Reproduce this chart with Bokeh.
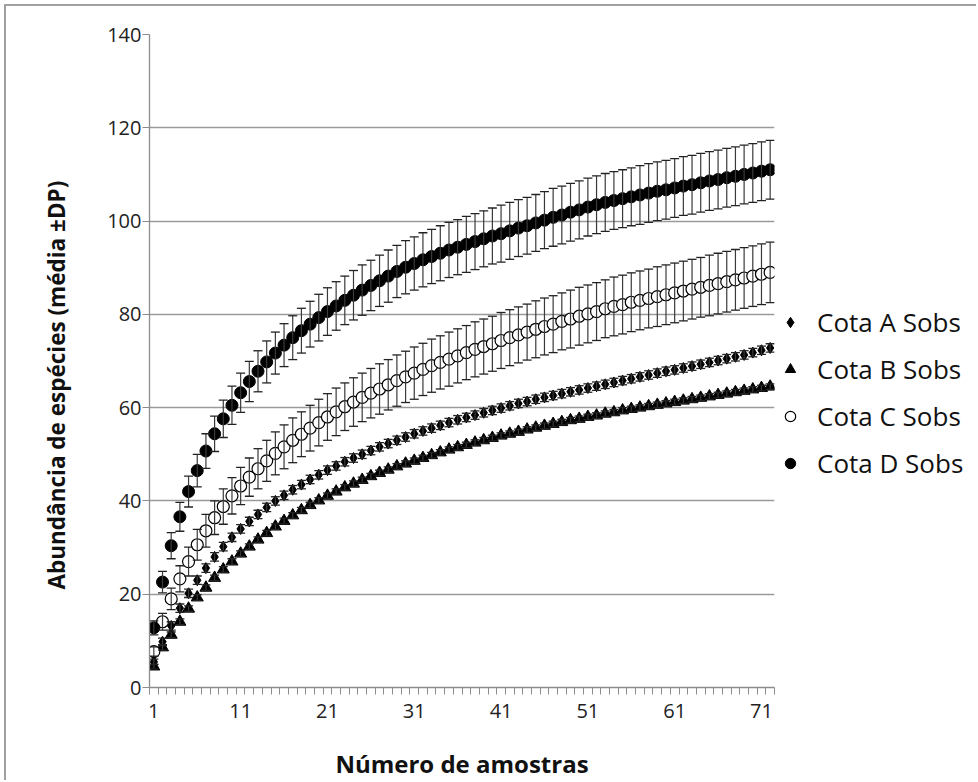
from bokeh.plotting import figure
from bokeh.layouts import row
from bokeh.models import (ColumnDataSource, Whisker, TeeHead, FixedTicker, Range1d,
                          Legend, LegendItem, Title)
from bokeh.embed import file_html
from bokeh.resources import INLINE

# Number of samples (1..72)
samples = list(range(1, 73))

# Observed species richness (mean) per elevation band
cota_a = [5.5, 9.8, 13.2, 17.0, 20.2, 23.0, 25.6, 28.0, 30.2, 32.2,
          34.0, 35.6, 37.1, 38.6, 40.0, 41.2, 42.4, 43.5, 44.6, 45.6,
          46.6, 47.5, 48.4, 49.2, 50.0, 50.8, 51.6, 52.3, 53.0, 53.7,
          54.4, 55.0, 55.6, 56.2, 56.8, 57.4, 57.9, 58.4, 58.9, 59.4,
          59.9, 60.4, 60.9, 61.3, 61.8, 62.2, 62.6, 63.0, 63.4, 63.8,
          64.2, 64.6, 65.0, 65.4, 65.8, 66.2, 66.6, 67.0, 67.4, 67.8,
          68.1, 68.5, 68.9, 69.3, 69.7, 70.1, 70.5, 70.9, 71.3, 71.8,
          72.3, 72.8]
cota_b = [4.5, 8.6, 11.3, 14.1, 16.9, 19.3, 21.4, 23.5, 25.3, 27.0,
          28.7, 30.2, 31.7, 33.1, 34.5, 35.7, 36.9, 38.0, 39.1, 40.1,
          41.1, 42.0, 42.9, 43.7, 44.5, 45.3, 46.0, 46.7, 47.4, 48.0,
          48.6, 49.2, 49.8, 50.4, 51.0, 51.5, 52.0, 52.5, 53.0, 53.5,
          54.0, 54.4, 54.8, 55.3, 55.7, 56.1, 56.5, 56.9, 57.3, 57.6,
          58.0, 58.3, 58.7, 59.0, 59.4, 59.7, 60.0, 60.3, 60.6, 60.9,
          61.2, 61.5, 61.8, 62.1, 62.4, 62.7, 63.0, 63.3, 63.6, 63.9,
          64.2, 64.5]
cota_c = [7.7, 14.1, 19.0, 23.3, 27.0, 30.6, 33.6, 36.4, 38.8, 41.1,
          43.2, 45.1, 46.9, 48.6, 50.2, 51.6, 53.0, 54.3, 55.6, 56.8,
          58.0, 59.1, 60.2, 61.2, 62.2, 63.1, 64.0, 64.9, 65.8, 66.6,
          67.4, 68.2, 69.0, 69.7, 70.4, 71.1, 71.8, 72.5, 73.1, 73.7,
          74.4, 75.0, 75.6, 76.2, 76.8, 77.4, 77.9, 78.5, 79.0, 79.6,
          80.1, 80.6, 81.2, 81.7, 82.1, 82.6, 83.0, 83.4, 83.8, 84.2,
          84.6, 85.0, 85.4, 85.8, 86.2, 86.6, 87.0, 87.4, 87.8, 88.2,
          88.6, 89.0]
cota_d = [12.8, 22.6, 30.4, 36.6, 42.0, 46.5, 50.7, 54.4, 57.6, 60.5,
          63.2, 65.6, 67.8, 69.8, 71.7, 73.4, 75.0, 76.5, 77.9, 79.3,
          80.6, 81.8, 83.0, 84.1, 85.2, 86.2, 87.2, 88.2, 89.2, 90.1,
          90.9, 91.7, 92.4, 93.1, 93.8, 94.4, 95.0, 95.6, 96.2, 96.8,
          97.3, 97.9, 98.5, 99.0, 99.6, 100.2, 100.8, 101.3, 101.9, 102.4,
          103.0, 103.5, 104.0, 104.4, 104.8, 105.2, 105.6, 106.0, 106.4, 106.7,
          107.1, 107.5, 107.8, 108.2, 108.6, 108.9, 109.3, 109.6, 110.0, 110.3,
          110.7, 111.0]

# Standard deviations
sd_a = [0.6, 0.8, 0.9, 0.9, 0.9, 0.9, 0.9, 0.9, 0.9, 0.9,
        0.9, 0.9, 0.9, 0.9, 0.9, 0.9, 0.9, 0.9, 0.9, 0.9,
        0.9, 0.9, 0.9, 0.9, 0.9, 0.9, 0.9, 0.9, 0.9, 0.9,
        0.9, 0.9, 0.9, 0.9, 0.9, 0.9, 0.9, 0.9, 0.9, 0.9,
        0.9, 0.9, 0.9, 0.9, 0.9, 0.9, 0.9, 0.9, 0.9, 0.9,
        0.9, 0.9, 0.9, 0.9, 0.9, 0.9, 0.9, 0.9, 0.9, 0.9,
        0.9, 0.9, 0.9, 0.9, 0.9, 0.9, 0.9, 0.9, 0.9, 0.9,
        0.9, 0.9]
sd_b = [0.5, 0.6, 0.6, 0.6, 0.6, 0.6, 0.6, 0.6, 0.6, 0.6,
        0.6, 0.6, 0.6, 0.6, 0.6, 0.6, 0.6, 0.6, 0.6, 0.6,
        0.6, 0.6, 0.6, 0.6, 0.6, 0.6, 0.6, 0.6, 0.6, 0.6,
        0.6, 0.6, 0.6, 0.6, 0.6, 0.6, 0.6, 0.6, 0.6, 0.6,
        0.6, 0.6, 0.6, 0.6, 0.6, 0.6, 0.6, 0.6, 0.6, 0.6,
        0.6, 0.6, 0.6, 0.6, 0.6, 0.6, 0.6, 0.6, 0.6, 0.6,
        0.6, 0.6, 0.6, 0.6, 0.6, 0.6, 0.6, 0.6, 0.6, 0.6,
        0.6, 0.6]
sd_c = [1.0, 1.8, 2.3, 2.8, 3.1, 3.3, 3.5, 3.6, 3.8, 3.9,
        4.0, 4.1, 4.3, 4.4, 4.6, 4.7, 4.8, 4.8, 4.9, 5.0,
        5.0, 5.1, 5.1, 5.2, 5.2, 5.3, 5.4, 5.4, 5.5, 5.5,
        5.6, 5.6, 5.7, 5.7, 5.8, 5.8, 5.8, 5.9, 5.9, 5.9,
        6.0, 6.0, 6.0, 6.0, 6.1, 6.1, 6.1, 6.1, 6.2, 6.2,
        6.2, 6.2, 6.2, 6.3, 6.3, 6.3, 6.3, 6.3, 6.4, 6.4,
        6.4, 6.4, 6.4, 6.4, 6.5, 6.5, 6.5, 6.5, 6.5, 6.5,
        6.5, 6.5]
sd_d = [1.5, 2.3, 2.8, 3.1, 3.3, 3.5, 3.7, 3.8, 4.0, 4.1,
        4.2, 4.3, 4.4, 4.5, 4.5, 4.6, 4.7, 4.8, 4.9, 5.0,
        5.1, 5.2, 5.2, 5.3, 5.4, 5.4, 5.5, 5.6, 5.6, 5.7,
        5.7, 5.8, 5.8, 5.9, 5.9, 5.9, 6.0, 6.0, 6.0, 6.0,
        6.1, 6.1, 6.1, 6.1, 6.1, 6.1, 6.2, 6.2, 6.2, 6.2,
        6.2, 6.2, 6.2, 6.2, 6.2, 6.2, 6.3, 6.3, 6.3, 6.3,
        6.3, 6.3, 6.3, 6.3, 6.3, 6.3, 6.3, 6.3, 6.3, 6.3,
        6.3, 6.3]

series_labels = ["Cota A Sobs", "Cota B Sobs", "Cota C Sobs", "Cota D Sobs"]
x_tick_labels = [1, 11, 21, 31, 41, 51, 61, 71]
y_ticks = [0, 20, 40, 60, 80, 100, 120, 140]

FONT = "Open Sans"
FRAME = "2px solid #a0a0a0"

# marker style per series: (marker, size, fill, line width)
styles = [("diamond", 11, "black", 1.0),
          ("triangle", 12, "black", 1.0),
          ("circle", 12, "white", 1.2),
          ("circle", 12, "black", 1.0)]

# ---- main plot -------------------------------------------------------------
p = figure(width=772, height=776, output_backend="svg", toolbar_location=None,
           x_range=Range1d(0.5, len(samples) + 0.5), y_range=Range1d(0, 140),
           min_border_left=142, min_border_right=4,
           min_border_top=28, min_border_bottom=94)
p.margin = (4, 0, 0, 4)
p.styles = {"border-left": FRAME, "border-top": FRAME}
p.background_fill_color = "white"
p.border_fill_color = "white"
p.outline_line_color = None

p.xgrid.grid_line_color = None
p.ygrid.grid_line_color = "#9a9a9a"
p.ygrid.grid_line_width = 1.3

p.yaxis.ticker = FixedTicker(ticks=y_ticks)
p.yaxis.axis_line_color = "#8c8c8c"
p.yaxis.axis_line_width = 1.3
p.yaxis.major_tick_line_color = "#8c8c8c"
p.yaxis.major_tick_out = 7
p.yaxis.major_tick_in = 0
p.yaxis.minor_tick_line_color = None
p.yaxis.major_label_text_font = FONT
p.yaxis.major_label_text_font_size = "20px"
p.yaxis.major_label_text_color = "#222222"
p.yaxis.major_label_standoff = 1

# y axis title as a side title, started a little above the frame bottom
p.add_layout(Title(text="Abundância de espécies (média ±DP)", align="left",
                   text_font=FONT, text_font_style="bold",
                   text_font_size="22.5px", text_color="#111111",
                   offset=98, standoff=65), "left")

# x axis: labels every 10 samples, small ticks between every sample
p.xaxis.ticker = FixedTicker(ticks=x_tick_labels,
                             minor_ticks=[s + 0.5 for s in [0] + samples])
p.xaxis.axis_line_color = "#8c8c8c"
p.xaxis.axis_line_width = 1.3
p.xaxis.major_tick_line_color = None
p.xaxis.minor_tick_line_color = "#8c8c8c"
p.xaxis.minor_tick_out = 7
p.xaxis.minor_tick_in = 0
p.xaxis.major_label_text_font = FONT
p.xaxis.major_label_text_font_size = "20px"
p.xaxis.major_label_text_color = "#222222"
p.xaxis.major_label_standoff = 9
p.xaxis.axis_label = "Número de amostras"
p.xaxis.axis_label_text_font = FONT
p.xaxis.axis_label_text_font_style = "bold"
p.xaxis.axis_label_text_font_size = "24px"
p.xaxis.axis_label_text_color = "#111111"
p.xaxis.axis_label_standoff = 26


def add_series(values, sd, style):
    marker, size, fill, line_w = style
    src = ColumnDataSource(dict(
        x=samples, y=values,
        lo=[v - s for v, s in zip(values, sd)],
        hi=[v + s for v, s in zip(values, sd)]))
    w = Whisker(base="x", lower="lo", upper="hi", source=src,
                line_color="#3a3a3a", line_width=1.2, level="glyph",
                upper_head=TeeHead(size=9, line_color="#222222", line_width=1.3),
                lower_head=TeeHead(size=9, line_color="#222222", line_width=1.3))
    p.add_layout(w)
    p.scatter("x", "y", source=src, marker=marker, size=size,
              fill_color=fill, line_color="black", line_width=line_w)


for vals, sd, st in zip([cota_a, cota_b, cota_c, cota_d],
                        [sd_a, sd_b, sd_c, sd_d], styles):
    add_series(vals, sd, st)

# ---- legend panel on the right --------------------------------------------
q = figure(width=200, height=776, output_backend="svg", toolbar_location=None,
           x_range=Range1d(0, 1), y_range=Range1d(0, 1),
           min_border=0)
q.margin = (4, 0, 0, 0)
q.styles = {"border-top": FRAME}
q.axis.visible = False
q.grid.visible = False
q.outline_line_color = None
q.background_fill_color = "white"
q.border_fill_color = "white"

items = []
for lab, (marker, size, fill, line_w) in zip(series_labels, styles):
    # swatch-only renderer: its single point is NaN, so only the legend shows it
    r = q.scatter(x=[float("nan")], y=[float("nan")], marker=marker, size=size,
                  fill_color=fill, line_color="black", line_width=line_w)
    items.append(LegendItem(label=lab, renderers=[r]))

legend = Legend(items=items, location=(1, 206), orientation="vertical",
                label_text_font=FONT, label_text_font_size="26px",
                label_text_color="#111111",
                glyph_width=26, glyph_height=26, label_height=26,
                label_standoff=14, spacing=11, padding=0, margin=0,
                border_line_color=None, background_fill_alpha=0)
q.add_layout(legend, "center")

layout = row(p, q, spacing=0)
open("out.html", "w").write(file_html(layout, INLINE))
